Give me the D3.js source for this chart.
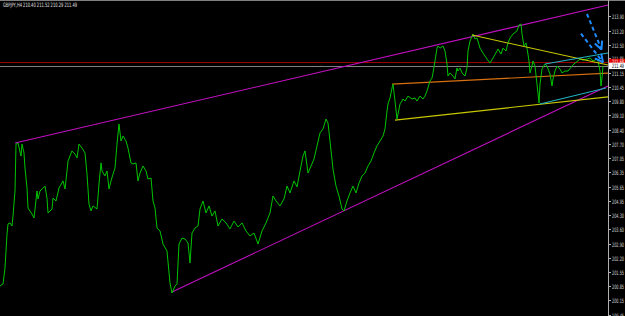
<!DOCTYPE html>
<html><head><meta charset="utf-8">
<script src="https://cdn.jsdelivr.net/npm/d3@7"></script>
<style>html,body{margin:0;padding:0;background:#000;overflow:hidden}</style>
</head><body><svg id="c" width="625" height="316"></svg>
<script>
const title = "GBPJPY,H4 210.40 211.52 210.29 211.49";
// bar index (H4 bars, chart time axis) and close prices
const bars = [0,3,5,7,8,10,12,13,15,16,18,21,22,24,25,27,28,32,34,37,38,40,42,45,47,48,52,53,56,59,63,65,67,68,72,75,77,79,82,85,87,89,91,93,97,99,101,102,105,107,109,111,113,115,117,119,121,123,126,128,131,133,136,138,140,143,146,148,151,153,155,157,160,163,167,170,172,175,177,179,182,185,188,190,192,195,198,
200,203,206,209,212,215,218,222,226,230,234,238,242,246,250,254,258,262,266,270,273,276,280,284,287,290,294,297,300,303,305,308,311,314,317,320,323,326,328,330,333,336,339,342,344,347,350,353,356,359,362,365,368,371,374,377,380,383,385,
387,388,390,392,393,395,397,398,400,402,403,405,408,412,415,417,420,423,425,427,430,432,433,435,437,438,440,443,445,447,448,450,453,455,457,458,460,462,465,467,468,470,473,475,477,480,483,487,490,493,497,498,501,503,506,508,510,513,517,519,521,522,524,526,527,529,530,532,533,535,537,539,540,542,545,547,550,552,553,555,557,560,562,565,568,572,575,578,580,583,587,590,593,597,598,600,601,602,603];
const closes = [200.85,200.95,201.72,203.36,203.85,203.90,203.75,204.23,205.44,207.71,207.76,207.13,207.71,207.28,206.55,205.59,204.62,204.33,204.14,205.44,205.06,205.44,205.54,205.68,205.10,204.38,204.57,205.10,204.96,205.59,205.93,205.54,206.41,206.89,207.38,207.23,207.04,207.71,207.52,207.28,206.26,204.81,204.48,204.72,204.57,205.78,206.80,206.41,206.17,206.41,205.54,205.93,206.26,206.55,207.71,208.68,207.86,208.10,207.86,207.52,206.80,206.75,206.80,205.93,206.31,206.65,206.41,206.02,206.07,204.96,204.62,203.65,203.51,202.88,202.54,201.00,200.51,200.85,200.95,202.88,203.17,203.12,202.93,201.96,203.41,203.65,203.75,
204.57,204.96,204.38,204.72,204.23,204.48,203.75,204.09,203.90,203.61,203.99,203.70,203.90,203.51,203.27,203.41,202.88,203.51,203.90,204.38,205.20,204.96,204.72,205.06,205.68,205.35,205.93,205.64,206.41,207.13,207.38,206.31,206.65,206.99,207.62,208.25,208.44,208.92,208.73,207.86,206.50,205.68,205.20,204.57,204.48,204.96,205.35,205.68,205.35,205.83,206.17,206.31,206.65,206.89,207.28,207.62,207.86,208.10,208.44,
209.31,209.65,209.94,210.42,210.61,209.79,208.92,209.16,209.65,209.79,209.89,209.79,210.03,209.89,209.94,209.79,210.03,209.89,210.03,210.28,210.76,210.90,211.15,211.73,212.35,212.45,212.35,212.45,212.21,211.58,211.00,211.15,211.00,210.86,211.39,211.24,211.39,211.15,211.00,211.39,212.21,212.69,213.03,212.79,212.84,212.35,212.11,211.82,211.63,211.87,212.21,212.31,212.06,212.35,212.21,212.60,212.84,213.03,213.18,213.47,213.51,213.03,212.45,212.60,212.35,211.73,211.15,211.48,211.73,211.48,210.61,209.70,210.61,211.34,211.58,211.48,211.10,210.52,210.86,211.24,211.48,211.34,211.15,211.24,211.24,211.48,211.63,211.73,211.82,211.77,211.82,211.87,211.73,211.82,211.73,211.24,210.52,210.90,211.49];
const tickLabels = ["213.90","213.20","212.50","211.85","211.15","210.45","209.80","209.10","208.40","207.70","207.05","206.35","205.65","204.95","204.30","203.60","202.90","202.20","201.55","200.85","200.15","199.45"];
const bidPrice = 211.49;
const askPrice = 211.68;
// trend lines: [bar1, price1, bar2, price2]
const magentaUpper = [15, 207.76, 608, 214.43];
const magentaLower = [172, 200.56, 608, 210.52];
const yellowUpper = [472, 212.98, 608, 211.53];
const yellowLower = [395, 208.87, 608, 209.99];
const orangeLine = [392, 210.61, 608, 211.14];
const cyanUpper = [545, 211.58, 608, 212.11];
const cyanLower = [540, 209.65, 606, 210.42];
// dashed arrows: [barStart, priceStart, barEnd, priceEnd]
const arrowA = [587, 214.00, 601.5, 212.28];
const arrowB = [581, 213.05, 603, 211.66];

const svg = d3.select("#c");
const W = 625, H = 316, axisX = 608;
svg.append("rect").attr("width", W).attr("height", H).attr("fill", "#000");

const x = d3.scaleLinear().domain([0, 608]).range([0, axisX]);
const y = d3.scaleLinear().domain([199.40, 214.675]).range([H, 0]);

// top border
svg.append("line").attr("x1", 0).attr("x2", W).attr("y1", 0.5).attr("y2", 0.5).attr("stroke", "#808080");

// bid / ask lines
svg.append("line").attr("x1", 0).attr("x2", axisX).attr("y1", Math.round(y(askPrice)) + 0.5).attr("y2", Math.round(y(askPrice)) + 0.5).attr("stroke", "#9a0000");
svg.append("line").attr("x1", 0).attr("x2", axisX).attr("y1", Math.round(y(bidPrice)) + 0.5).attr("y2", Math.round(y(bidPrice)) + 0.5).attr("stroke", "#808080");

function tline(d, color) {
  svg.append("line").attr("x1", x(d[0])).attr("y1", y(d[1])).attr("x2", x(d[2])).attr("y2", y(d[3]))
    .attr("stroke", color).attr("stroke-width", 1.1);
}
tline(magentaUpper, "#c010c0");
tline(magentaLower, "#c010c0");
tline(yellowLower, "#c8c800");
tline(orangeLine, "#d87010");

// price line
const line = d3.line().x((d, i) => x(bars[i])).y(d => y(d));
svg.append("path").datum(closes).attr("d", line).attr("fill", "none").attr("stroke", "#00c400").attr("stroke-width", 1);

tline(yellowUpper, "#c8c800");
tline(cyanUpper, "#20b0c0");
tline(cyanLower, "#20b0c0");

// arrows
function arrow(d) {
  const x1 = x(d[0]), y1 = y(d[1]), x2 = x(d[2]), y2 = y(d[3]);
  svg.append("line").attr("x1", x1).attr("y1", y1).attr("x2", x2).attr("y2", y2)
    .attr("stroke", "#1e8cff").attr("stroke-width", 2).attr("stroke-dasharray", "4,3");
  const ang = Math.atan2(y2 - y1, x2 - x1);
  [0.45, -0.45].forEach(a => {
    svg.append("line").attr("x1", x2).attr("y1", y2)
      .attr("x2", x2 - 9 * Math.cos(ang + a)).attr("y2", y2 - 9 * Math.sin(ang + a))
      .attr("stroke", "#1e8cff").attr("stroke-width", 2);
  });
}
arrow(arrowA);
arrow(arrowB);

// axis
svg.append("line").attr("x1", axisX + 0.5).attr("x2", axisX + 0.5).attr("y1", 0).attr("y2", H).attr("stroke", "#b0b0b0");
const tickVals = tickLabels.map(Number);
const ax = svg.append("g");
tickVals.forEach((v, i) => {
  const ty = Math.round(y(v)) + 0.5;
  ax.append("line").attr("x1", axisX).attr("x2", axisX + 3).attr("y1", ty).attr("y2", ty).attr("stroke", "#b0b0b0");
  ax.append("text").attr("x", axisX + 4).attr("y", ty + 2.2).attr("fill", "#d8d8d8")
    .attr("font-family", "DejaVu Sans").attr("font-size", 6).attr("textLength", 12)
    .attr("lengthAdjust", "spacingAndGlyphs").text(tickLabels[i]);
});

// price labels
function priceBox(p, bg, fg) {
  const py = y(p);
  svg.append("rect").attr("x", axisX + 1).attr("y", py - 3.2).attr("width", W - axisX - 1).attr("height", 6.4).attr("fill", bg);
  svg.append("text").attr("x", axisX + 4).attr("y", py + 2.2).attr("fill", fg)
    .attr("font-family", "DejaVu Sans").attr("font-size", 6).attr("textLength", 12)
    .attr("lengthAdjust", "spacingAndGlyphs").text(p.toFixed(2));
}
priceBox(askPrice, "#e00000", "#ffffff");
priceBox(bidPrice, "#ffffff", "#000000");

// title
svg.append("text").attr("x", 3).attr("y", 7).attr("fill", "#e0e0e0")
  .attr("font-family", "DejaVu Sans").attr("font-size", 6).attr("textLength", 74)
  .attr("lengthAdjust", "spacingAndGlyphs").text(title);
</script></body></html>
